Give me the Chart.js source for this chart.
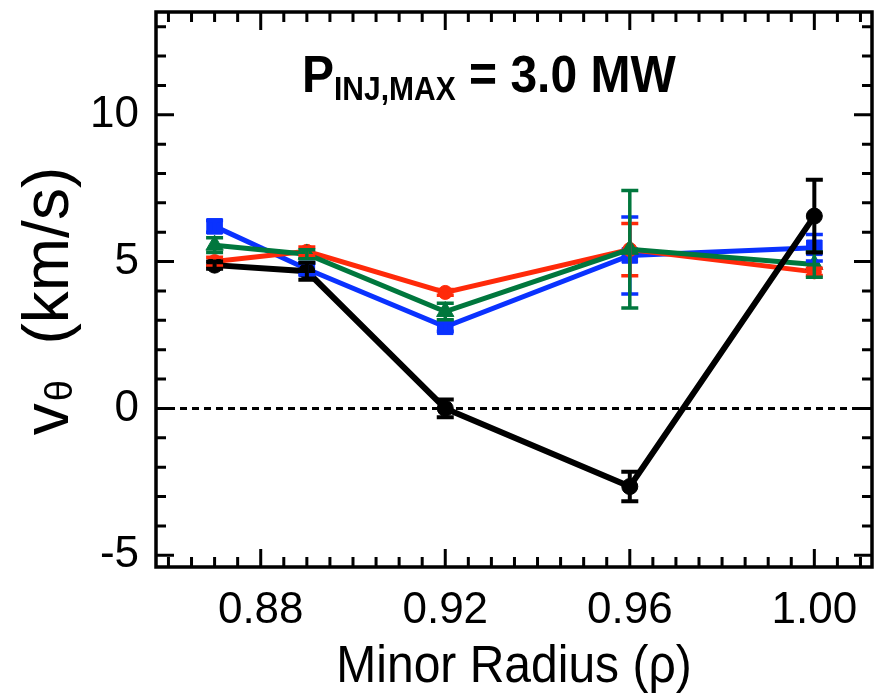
<!DOCTYPE html>
<html>
<head>
<meta charset="utf-8">
<script src="https://cdn.jsdelivr.net/npm/chart.js@4.4.1/dist/chart.umd.min.js"></script>
<style>
  html, body { margin: 0; padding: 0; background: #ffffff; }
  #wrap { width: 884px; height: 696px; }
</style>
</head>
<body>
<div id="wrap"><canvas id="c" width="884" height="696"></canvas></div>
<script>
// ---- data ----
const radius  = [0.87, 0.89, 0.92, 0.96, 1.00];
const vBlack  = [4.88, 4.67, 0.00, -2.66, 6.55];
const eBlack  = [0.12, 0.29, 0.30, 0.50, 1.24];
const vBlue   = [6.20, 4.75, 2.78, 5.21, 5.47];
const eBlue   = [0.20, 0.20, 0.15, 1.31, 0.45];
const vRed    = [5.00, 5.35, 3.95, 5.41, 4.65];
const eRed    = [0.15, 0.15, 0.10, 0.89, 0.12];
const vGreen  = [5.56, 5.25, 3.30, 5.42, 4.90];
const eGreen  = [0.25, 0.15, 0.28, 2.00, 0.43];

const xTickLabels = ['0.88', '0.92', '0.96', '1.00'];
const xTickValues = [0.88, 0.92, 0.96, 1.00];
const yTickLabels = ['-5', '0', '5', '10'];
const yTickValues = [-5, 0, 5, 10];

const titleMain = 'P';
const titleSub = 'INJ,MAX';
const titleRest = ' = 3.0 MW';
const xTitle = 'Minor Radius (\u03C1)';
const yTitleMain = 'v';
const yTitleSub = '\u03B8';
const yTitleRest = '  (km/s)';

const FONT = '"Liberation Sans", Arial, Helvetica, sans-serif';
const C_BLUE = '#0a32ff', C_RED = '#ff2a0a', C_GREEN = '#00773d', C_BLACK = '#000000';

function pts(vals) { return radius.map((x, i) => ({ x: x, y: vals[i] })); }

const series = [
  { vals: vBlack, errs: eBlack, color: C_BLACK, style: 'circle',   r: 8,   lw: 6, order: 0 },
  { vals: vGreen, errs: eGreen, color: C_GREEN, style: 'triangle', r: 10,  lw: 5, order: 1 },
  { vals: vRed,   errs: eRed,   color: C_RED,   style: 'circle',   r: 7,   lw: 5, order: 2 },
  { vals: vBlue,  errs: eBlue,  color: C_BLUE,  style: 'rect',     r: 11,  lw: 5, order: 3 },
];

const decor = {
  id: 'decor',
  beforeDatasetsDraw(chart) {
    const { ctx, chartArea: a, scales: { y } } = chart;
    const y0 = y.getPixelForValue(0);
    ctx.save();
    ctx.strokeStyle = '#000';
    ctx.lineWidth = 3;
    ctx.setLineDash([7, 5]);
    ctx.beginPath();
    ctx.moveTo(a.left, y0);
    ctx.lineTo(a.right, y0);
    ctx.stroke();
    ctx.restore();
  },
  afterDatasetsDraw(chart) {
    const { ctx, scales: { x, y } } = chart;
    ctx.save();
    [...series].reverse().forEach(s => {
      ctx.strokeStyle = s.color;
      ctx.lineWidth = s.color === C_BLACK ? 4 : 3.5;
      radius.forEach((rv, i) => {
        const px = x.getPixelForValue(rv);
        const pt = y.getPixelForValue(s.vals[i] + s.errs[i]);
        const pb = y.getPixelForValue(s.vals[i] - s.errs[i]);
        ctx.beginPath();
        ctx.moveTo(px, pt); ctx.lineTo(px, pb);
        ctx.moveTo(px - 8.5, pt); ctx.lineTo(px + 8.5, pt);
        ctx.moveTo(px - 8.5, pb); ctx.lineTo(px + 8.5, pb);
        ctx.stroke();
      });
    });
    ctx.restore();
  },
  afterDraw(chart) {
    const { ctx, chartArea: a, scales: { x, y } } = chart;
    ctx.save();
    ctx.strokeStyle = '#000';
    ctx.lineWidth = 3.5;
    ctx.strokeRect(a.left, a.top, a.right - a.left, a.bottom - a.top);
    ctx.lineWidth = 3;
    ctx.beginPath();
    for (let k = 0; k <= 30; k++) {
      const v = 0.86 + k * 0.005;
      if (v < x.min || v > x.max) continue;
      const major = xTickValues.some(t => Math.abs(t - v) < 1e-6);
      const len = major ? 18 : 10;
      const px = x.getPixelForValue(v);
      ctx.moveTo(px, a.bottom); ctx.lineTo(px, a.bottom - len);
      ctx.moveTo(px, a.top); ctx.lineTo(px, a.top + len);
    }
    for (let v = -5; v <= 13; v++) {
      const major = yTickValues.includes(v);
      const len = major ? 18 : 10;
      const py = y.getPixelForValue(v);
      ctx.moveTo(a.left, py); ctx.lineTo(a.left + len, py);
      ctx.moveTo(a.right, py); ctx.lineTo(a.right - len, py);
    }
    ctx.stroke();

    ctx.fillStyle = '#000';
    ctx.textBaseline = 'alphabetic';
    ctx.save();
    ctx.translate(302, 92);
    ctx.scale(1, 1.08);
    let tx = 0;
    ctx.font = 'bold 48px ' + FONT;
    ctx.fillText(titleMain, tx, 0);
    tx += ctx.measureText(titleMain).width;
    ctx.font = 'bold 30px ' + FONT;
    ctx.fillText(titleSub, tx, 7);
    tx += ctx.measureText(titleSub).width;
    ctx.font = 'bold 48px ' + FONT;
    ctx.fillText(titleRest, tx, 0);
    ctx.restore();

    ctx.save();
    ctx.translate((a.left + a.right) / 2, 682);
    ctx.scale(1, 1.08);
    ctx.font = '48px ' + FONT;
    ctx.textAlign = 'center';
    ctx.fillText(xTitle, 0, 0);
    ctx.restore();

    ctx.textAlign = 'left';
    ctx.translate(68, 302);
    ctx.rotate(-Math.PI / 2);
    ctx.font = '64px ' + FONT;
    const w1 = ctx.measureText(yTitleMain).width;
    const w3 = ctx.measureText(yTitleRest).width;
    ctx.font = '38px ' + FONT;
    const w2 = ctx.measureText(yTitleSub).width;
    let sx = -(w1 + w2 + w3) / 2;
    ctx.font = '64px ' + FONT;
    ctx.fillText(yTitleMain, sx, 0);
    sx += w1 + 2;
    ctx.font = '38px ' + FONT;
    ctx.fillText(yTitleSub, sx, 4);
    sx += w2;
    ctx.font = '64px ' + FONT;
    ctx.fillText(yTitleRest, sx, 0);
    ctx.restore();
  }
};

new Chart(document.getElementById('c'), {
  type: 'line',
  data: {
    datasets: series.map(s => ({
      data: pts(s.vals),
      borderColor: s.color,
      backgroundColor: s.color,
      borderWidth: s.lw,
      pointStyle: s.style,
      pointRadius: s.r,
      pointHoverRadius: s.r,
      pointBackgroundColor: s.color,
      pointBorderColor: s.color,
      pointBorderWidth: 1,
      order: s.order,
      tension: 0,
      fill: false,
      clip: false
    }))
  },
  options: {
    responsive: false,
    animation: false,
    devicePixelRatio: 1,
    layout: { padding: { top: 7, right: 8, left: 0, bottom: 0 } },
    plugins: { legend: { display: false }, tooltip: { enabled: false }, title: { display: false } },
    scales: {
      x: {
        type: 'linear',
        min: 0.8573, max: 1.0125,
        grid: { display: false },
        border: { display: false },
        afterFit(scale) { scale.height = 129; scale.paddingLeft = 0; scale.paddingRight = 0; },
        afterBuildTicks(scale) { scale.ticks = xTickValues.map(v => ({ value: v })); },
        ticks: {
          padding: 9,
          color: '#000',
          font: { family: FONT, size: 44 },
          maxRotation: 0,
          callback: (v) => { const i = xTickValues.findIndex(t => Math.abs(t - v) < 1e-6); return i >= 0 ? xTickLabels[i] : ''; }
        }
      },
      y: {
        type: 'linear',
        min: -5.4, max: 13.5,
        grid: { display: false },
        border: { display: false },
        afterFit(scale) { scale.width = 156; scale.paddingTop = 0; scale.paddingBottom = 0; },
        afterBuildTicks(scale) { scale.ticks = yTickValues.map(v => ({ value: v })); },
        ticks: {
          padding: 9,
          color: '#000',
          font: { family: FONT, size: 44 },
          callback: (v) => { const i = yTickValues.indexOf(v); return i >= 0 ? yTickLabels[i] : ''; }
        }
      }
    }
  },
  plugins: [decor]
});
</script>
</body>
</html>
